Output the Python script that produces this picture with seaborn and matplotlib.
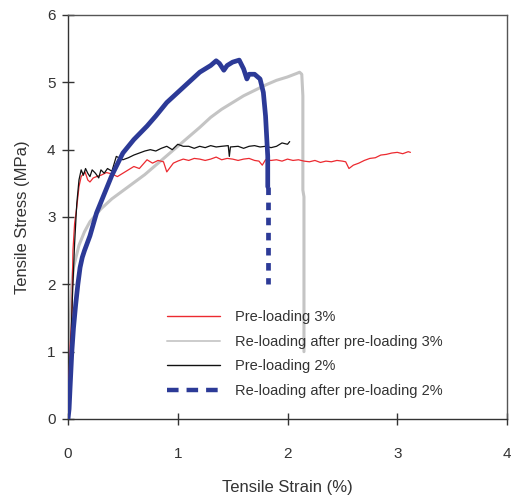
import matplotlib
matplotlib.use("Agg")
import matplotlib.pyplot as plt
from matplotlib.lines import Line2D
import seaborn as sns
import pandas as pd

# ---- data ----
pre3_x = [0.00, 0.01, 0.02, 0.035, 0.045, 0.06, 0.08, 0.10, 0.12, 0.155, 0.18, 0.20, 0.23, 0.26,
          0.30, 0.35, 0.40, 0.45, 0.50, 0.55, 0.60, 0.65, 0.72, 0.77, 0.82, 0.87, 0.90, 0.96,
          1.00, 1.05, 1.10, 1.15, 1.20, 1.25, 1.30, 1.35, 1.40, 1.45, 1.50, 1.55, 1.60, 1.65,
          1.70, 1.74, 1.77, 1.80, 1.85, 1.90, 1.95, 2.00, 2.05, 2.10, 2.15, 2.20, 2.25, 2.30,
          2.35, 2.40, 2.45, 2.50, 2.53, 2.56, 2.60, 2.65, 2.70, 2.75, 2.80, 2.85, 2.90, 2.95,
          3.00, 3.05, 3.10, 3.12]
pre3_y = [0.00, 0.60, 1.10, 1.50, 2.50, 2.90, 3.15, 3.45, 3.60, 3.67, 3.55, 3.52, 3.58, 3.60,
          3.62, 3.66, 3.64, 3.60, 3.65, 3.70, 3.75, 3.72, 3.85, 3.80, 3.84, 3.82, 3.67, 3.80,
          3.83, 3.86, 3.84, 3.87, 3.86, 3.84, 3.86, 3.89, 3.85, 3.87, 3.86, 3.84, 3.86, 3.87,
          3.84, 3.83, 3.77, 3.85, 3.84, 3.85, 3.83, 3.86, 3.84, 3.85, 3.83, 3.82, 3.84, 3.81,
          3.83, 3.82, 3.84, 3.83, 3.82, 3.72, 3.77, 3.80, 3.84, 3.87, 3.88, 3.92, 3.93, 3.95,
          3.96, 3.94, 3.97, 3.96]

re3_x = [0.00, 0.01, 0.02, 0.03, 0.05, 0.10, 0.15, 0.20, 0.30, 0.40, 0.50, 0.60, 0.70, 0.80,
         0.90, 1.00, 1.10, 1.20, 1.30, 1.40, 1.50, 1.60, 1.70, 1.80, 1.90, 2.00, 2.08, 2.11,
         2.13, 2.14, 2.14, 2.15, 2.15]
re3_y = [0.00, 0.80, 1.40, 1.90, 2.25, 2.58, 2.78, 2.93, 3.12, 3.27, 3.39, 3.51, 3.63, 3.77,
         3.91, 4.05, 4.19, 4.33, 4.48, 4.60, 4.70, 4.80, 4.88, 4.96, 5.03, 5.08, 5.13, 5.15,
         5.12, 4.80, 3.40, 3.30, 1.00]

pre2_x = [0.00, 0.02, 0.04, 0.06, 0.08, 0.10, 0.12, 0.14, 0.16, 0.18, 0.20, 0.22, 0.25, 0.28,
          0.30, 0.33, 0.36, 0.40, 0.44, 0.50, 0.55, 0.60, 0.65, 0.70, 0.75, 0.80, 0.85, 0.90,
          0.95, 1.00, 1.05, 1.10, 1.15, 1.20, 1.25, 1.30, 1.35, 1.40, 1.46, 1.47, 1.48, 1.55,
          1.60, 1.65, 1.70, 1.75, 1.80, 1.85, 1.90, 1.95, 2.00, 2.02]
pre2_y = [0.00, 0.80, 1.80, 2.60, 3.20, 3.55, 3.70, 3.62, 3.72, 3.65, 3.60, 3.70, 3.65, 3.58,
          3.70, 3.65, 3.72, 3.68, 3.90, 3.85, 3.88, 3.92, 3.95, 3.98, 4.00, 3.98, 4.02, 4.05,
          4.00, 4.08, 4.05, 4.05, 4.02, 4.05, 4.03, 4.06, 4.04, 4.05, 4.06, 3.90, 4.04, 4.05,
          4.02, 4.05, 4.06, 4.04, 4.05, 4.03, 4.05, 4.10, 4.08, 4.12]

re2_x = [0.00, 0.01, 0.02, 0.035, 0.05, 0.07, 0.09, 0.11, 0.13, 0.15, 0.20, 0.26, 0.32, 0.40,
         0.50, 0.60, 0.72, 0.80, 0.90, 1.00, 1.10, 1.20, 1.30, 1.35, 1.38, 1.42, 1.45, 1.50,
         1.56, 1.60, 1.63, 1.65, 1.70, 1.75, 1.78, 1.80, 1.81, 1.82, 1.82]
re2_y = [0.00, 0.15, 0.50, 1.00, 1.35, 1.70, 2.00, 2.25, 2.40, 2.50, 2.72, 3.06, 3.30, 3.62,
         3.95, 4.15, 4.35, 4.50, 4.70, 4.85, 5.00, 5.15, 5.25, 5.32, 5.28, 5.18, 5.25, 5.30,
         5.33, 5.20, 5.05, 5.12, 5.12, 5.05, 4.85, 4.50, 4.20, 3.90, 3.45]
re2_tail_x = [1.82, 1.82]
re2_tail_y = [3.45, 2.00]

labels = ["Pre-loading 3%", "Re-loading after pre-loading 3%",
          "Pre-loading 2%", "Re-loading after pre-loading 2%"]
x_ticks = [0, 1, 2, 3, 4]
y_ticks = [0, 1, 2, 3, 4, 5, 6]

RED = "#ec2a30"
GRAY = "#c4c4c4"
BLACK = "#111111"
BLUE = "#2c3a97"

sns.set_style("ticks")
plt.rcParams["font.family"] = ["Liberation Sans", "DejaVu Sans"]

fig = plt.figure(figsize=(5.11, 4.97), dpi=100)
ax = fig.add_axes([68 / 511, 1 - 419 / 497, (507 - 68) / 511, (419 - 15) / 497])

def draw(xs, ys, **kw):
    df = pd.DataFrame({"x": xs, "y": ys})
    sns.lineplot(data=df, x="x", y="y", sort=False, estimator=None, ax=ax, **kw)

draw(re3_x, re3_y, color=GRAY, lw=2.2, zorder=2)
draw(pre3_x, pre3_y, color=RED, lw=0.9, zorder=3)
draw(pre2_x, pre2_y, color=BLACK, lw=0.9, zorder=4)
draw(re2_x, re2_y, color=BLUE, lw=3.4, zorder=5)
draw(re2_tail_x, re2_tail_y, color=BLUE, lw=3.4, linestyle=(0, (1.6, 1.6)), zorder=5)

ax.set_xlim(0, 4)
ax.set_ylim(0, 6)
ax.set_xticks(x_ticks)
ax.set_yticks(y_ticks)
ax.set_xticklabels([str(v) for v in x_ticks])
ax.set_yticklabels([str(v) for v in y_ticks])
ax.tick_params(axis="both", direction="inout", length=8, width=1.0, color="#333333",
               labelsize=11, labelcolor="#333333")
ax.tick_params(axis="x", pad=16)
ax.tick_params(axis="y", pad=5)
for side in ["left", "bottom"]:
    ax.spines[side].set_color("#333333")
    ax.spines[side].set_linewidth(1.0)
for side in ["top", "right"]:
    ax.spines[side].set_visible(True)
    ax.spines[side].set_color("#555555")
    ax.spines[side].set_linewidth(1.0)

ax.set_xlabel("Tensile Strain (%)", fontsize=12, color="#333333", labelpad=14)
ax.set_ylabel("Tensile Stress (MPa)", fontsize=12, color="#333333", labelpad=12)

handles = [Line2D([], [], color=RED, lw=1.0),
           Line2D([], [], color="#cccccc", lw=1.4),
           Line2D([], [], color=BLACK, lw=1.0),
           Line2D([], [], color=BLUE, lw=3.2, linestyle=(0, (2.6, 1.8)))]
ax.legend(handles, labels,
          loc="upper left", bbox_to_anchor=(167 / 511, 1 - 310 / 497),
          bbox_transform=fig.transFigure, frameon=False, fontsize=10.5,
          handlelength=3.65, handletextpad=1.0, labelspacing=0.73,
          borderpad=0, borderaxespad=0, labelcolor="#333333")

fig.savefig("out.png", dpi=100)
